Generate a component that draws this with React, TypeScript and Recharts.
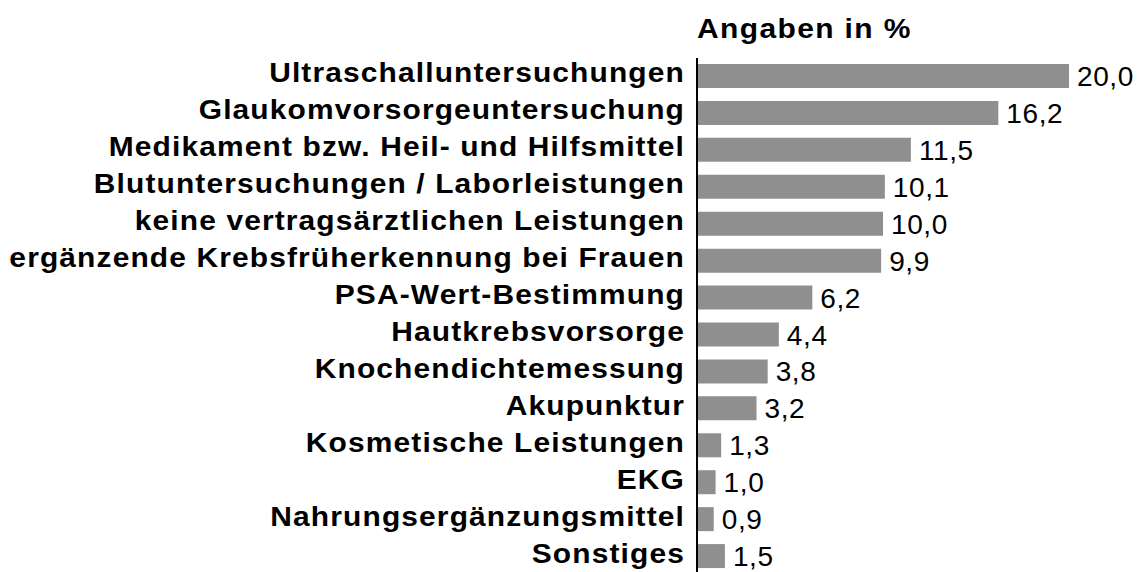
import React from 'react';
import { BarChart, Bar, XAxis, YAxis, LabelList } from 'recharts';

const categories = [
  'Ultraschalluntersuchungen',
  'Glaukomvorsorgeuntersuchung',
  'Medikament bzw. Heil- und Hilfsmittel',
  'Blutuntersuchungen / Laborleistungen',
  'keine vertragsärztlichen Leistungen',
  'ergänzende Krebsfrüherkennung bei Frauen',
  'PSA-Wert-Bestimmung',
  'Hautkrebsvorsorge',
  'Knochendichtemessung',
  'Akupunktur',
  'Kosmetische Leistungen',
  'EKG',
  'Nahrungsergänzungsmittel',
  'Sonstiges',
];

const values = [20.0, 16.2, 11.5, 10.1, 10.0, 9.9, 6.2, 4.4, 3.8, 3.2, 1.3, 1.0, 0.9, 1.5];

const data = categories.map((name, i) => ({ name, value: values[i] }));

const FONT = '"Liberation Sans", Arial, sans-serif';

const fmt = (v: number) => v.toFixed(1).replace('.', ',');

// labels in the original are a touch wider than plain Arial bold
const CategoryTick = ({ y, payload }: any) => (
  <text
    transform={`translate(685, ${y + 6}) scale(1.07, 1)`}
    textAnchor="end"
    fontSize={28}
    fontWeight="bold"
    fontFamily={FONT}
    letterSpacing={1.05}
    fill="#000"
  >
    {payload.value}
  </text>
);

const ValueLabel = ({ x, y, width, height, value }: any) => (
  <text
    x={x + width + 8}
    y={y + height / 2 + 10}
    fontSize={28}
    fontFamily={FONT}
    letterSpacing={0.6}
    fill="#000"
  >
    {fmt(value)}
  </text>
);

export default function App() {
  return (
    <div
      style={{
        position: 'absolute',
        left: 0,
        top: 0,
        width: 1141,
        height: 572,
        overflow: 'hidden',
        background: '#fff',
      }}
    >
      <div
        style={{
          position: 'absolute',
          left: 697,
          top: 15,
          fontFamily: FONT,
          fontSize: 28,
          lineHeight: '28px',
          fontWeight: 'bold',
          letterSpacing: '1.3px',
          color: '#000',
          whiteSpace: 'nowrap',
          transform: 'scaleX(1.07)',
          transformOrigin: 'left',
        }}
      >
        Angaben in %
      </div>
      <BarChart
        width={1141}
        height={575}
        data={data}
        layout="vertical"
        margin={{ top: 58, right: 72, bottom: 0, left: 0 }}
      >
        <XAxis type="number" domain={[0, 20]} hide />
        <YAxis
          type="category"
          dataKey="name"
          width={697}
          tick={<CategoryTick />}
          tickLine={false}
          axisLine={{ stroke: '#000', strokeWidth: 2 }}
          interval={0}
        />
        <Bar dataKey="value" fill="#8f8f8f" barSize={24} isAnimationActive={false}>
          <LabelList dataKey="value" content={<ValueLabel />} />
        </Bar>
      </BarChart>
    </div>
  );
}
